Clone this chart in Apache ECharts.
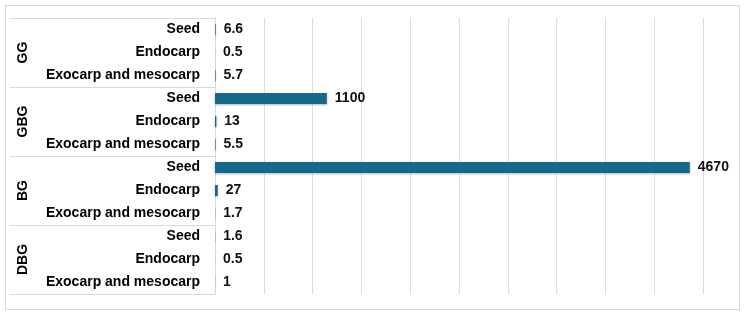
<!DOCTYPE html>
<html>
<head>
<meta charset="utf-8">
<script src="https://cdn.jsdelivr.net/npm/echarts@6/dist/echarts.min.js"></script>
<style>
html,body{margin:0;padding:0;background:#fff;}
#frame{position:absolute;left:5px;top:5px;width:733px;height:303px;border:1px solid #d9d9d9;pointer-events:none;}
#chart{position:absolute;left:0;top:0;width:745px;height:315px;}
</style>
</head>
<body>
<div id="chart"></div>
<div id="frame"></div>
<script>
const groups = ['GG', 'GBG', 'BG', 'DBG'];
const parts = ['Seed', 'Endocarp', 'Exocarp and mesocarp'];
const ggValues = [6.6, 0.5, 5.7];
const gbgValues = [1100, 13, 5.5];
const bgValues = [4670, 27, 1.7];
const dbgValues = [1.6, 0.5, 1];

const categories = [];
groups.forEach(() => parts.forEach(p => categories.push(p)));
const values = [].concat(ggValues, gbgValues, bgValues, dbgValues);

const chart = echarts.init(document.getElementById('chart'));
const fontFamily = '"Liberation Sans", Arial, sans-serif';
chart.setOption({
  animation: false,
  grid: {left: 215, right: 42, top: 18, bottom: 21, containLabel: false},
  xAxis: {
    type: 'value', min: 0, max: 4800, interval: 480,
    axisLabel: {show: false}, axisLine: {show: false}, axisTick: {show: false},
    splitLine: {show: true, lineStyle: {color: '#dedede', width: 1}}
  },
  yAxis: [
    {
      type: 'category', inverse: true, data: categories,
      axisLine: {show: true, lineStyle: {color: '#d9d9d9'}},
      axisTick: {show: false},
      axisLabel: {margin: 15, color: '#000', fontWeight: 'bold', fontSize: 14, fontFamily: fontFamily}
    },
    {
      type: 'category', inverse: true, data: groups, position: 'left', offset: 0,
      axisLine: {show: false},
      axisTick: {show: true, length: 205, lineStyle: {color: '#d9d9d9'}},
      axisLabel: {rotate: 90, margin: 185, color: '#000', fontWeight: 'bold', fontSize: 14, fontFamily: fontFamily},
      splitLine: {show: false}
    }
  ],
  series: [{
    type: 'bar', yAxisIndex: 0, data: values, barWidth: 11,
    itemStyle: {color: '#17698c', shadowColor: 'rgba(0,0,0,0.3)', shadowBlur: 2, shadowOffsetX: 0, shadowOffsetY: 1},
    label: {show: true, position: 'right', distance: 8, color: '#111', fontWeight: 'bold', fontSize: 14, fontFamily: fontFamily,
      formatter: p => String(p.value)}
  }]
});
</script>
</body>
</html>
